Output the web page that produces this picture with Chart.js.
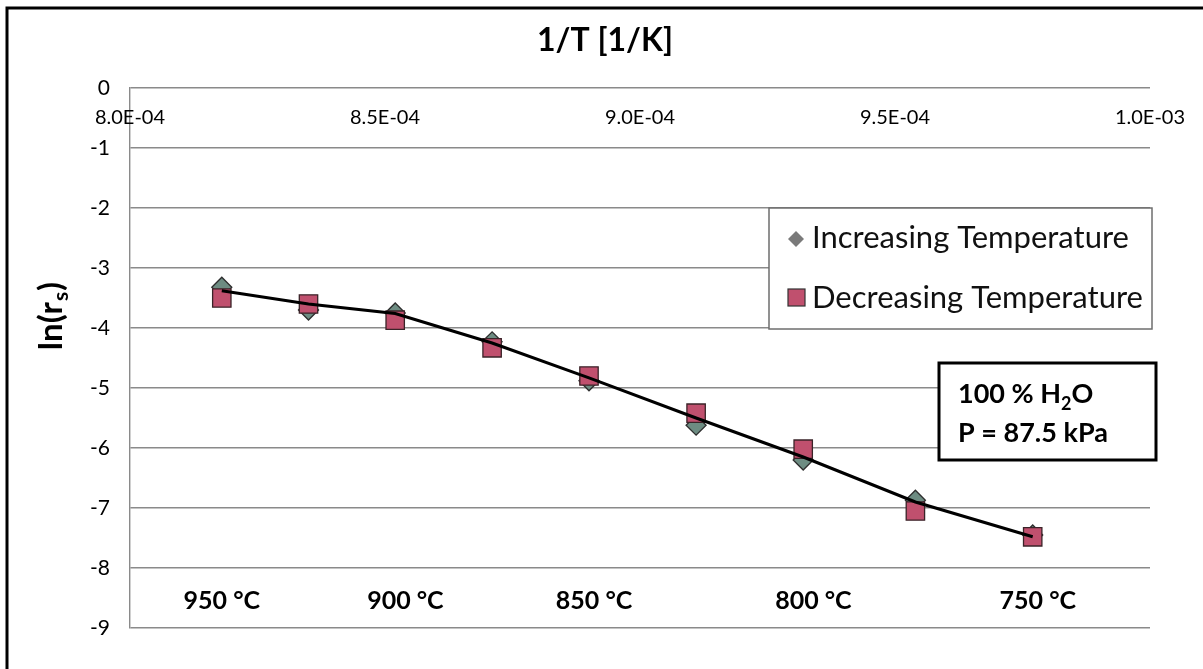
<!DOCTYPE html>
<html>
<head>
<meta charset="utf-8">
<script src="https://cdn.jsdelivr.net/npm/chart.js@4.4.0/dist/chart.umd.min.js"></script>
<style>
  html, body { margin: 0; padding: 0; background: #fff; }
  #wrap { width: 1203px; height: 669px; position: relative; }
</style>
</head>
<body>
<div id="wrap"><canvas id="arrhenius" width="1203" height="669"></canvas></div>
<script>
// values
const invT = [8.18e-4, 8.35e-4, 8.52e-4, 8.71e-4, 8.90e-4, 9.11e-4, 9.32e-4, 9.54e-4, 9.77e-4];
const increasing = [-3.32, -3.70, -3.75, -4.23, -4.88, -5.62, -6.20, -6.87, -7.45];
const decreasing = [-3.50, -3.60, -3.87, -4.33, -4.80, -5.42, -6.02, -7.05, -7.48];
const trend = [-3.38, -3.60, -3.76, -4.25, -4.83, -5.50, -6.15, -6.90, -7.48];

const xTicks = [8.0e-4, 8.5e-4, 9.0e-4, 9.5e-4, 1.0e-3];
const xTickLabels = ['8.0E-04', '8.5E-04', '9.0E-04', '9.5E-04', '1.0E-03'];
const tempLabels = ['950 °C', '900 °C', '850 °C', '800 °C', '750 °C'];
const tempLabelX = [8.18e-4, 8.54e-4, 8.91e-4, 9.34e-4, 9.78e-4];
const seriesNames = ['Increasing Temperature', 'Decreasing Temperature'];

const FONT = 'Lato, "Open Sans", sans-serif';

function pts(ys) {
    return invT.map((x, i) => ({ x: x, y: ys[i] }));
}

// draws text + boxes that excel puts inside the plot
const overlay = {
    id: 'overlay',
    afterDraw(chart) {
        const { ctx, scales: { x, y } } = chart;
        ctx.save();
        ctx.fillStyle = '#000';

        // x tick labels sit just under the 0 line
        ctx.font = '20px ' + FONT;
        ctx.textAlign = 'center';
        ctx.textBaseline = 'middle';
        xTicks.forEach((v, i) => {
            ctx.fillText(xTickLabels[i], x.getPixelForValue(v), y.getPixelForValue(-0.5));
        });

        // axis title on top
        ctx.font = 'bold 32px ' + FONT;
        ctx.textBaseline = 'alphabetic';
        ctx.fillText('1/T [1/K]', 605, 51);

        // y title ln(r_s)
        ctx.save();
        ctx.translate(62, 317);
        ctx.rotate(-Math.PI / 2);
        ctx.textAlign = 'left';
        ctx.textBaseline = 'alphabetic';
        const a = 'ln(r', c = ')';
        ctx.font = 'bold 33px ' + FONT;
        const wa = ctx.measureText(a).width;
        ctx.font = 'bold 21px ' + FONT;
        const wb = ctx.measureText('s').width;
        ctx.font = 'bold 33px ' + FONT;
        const wc = ctx.measureText(c).width;
        let sx = -(wa + wb + wc) / 2;
        ctx.fillText(a, sx, 0);
        ctx.font = 'bold 21px ' + FONT;
        ctx.fillText('s', sx + wa + 1, 6);
        ctx.font = 'bold 33px ' + FONT;
        ctx.fillText(c, sx + wa + wb + 2, 0);
        ctx.restore();

        // temperature labels along the bottom
        ctx.font = 'bold 25px ' + FONT;
        ctx.textAlign = 'center';
        ctx.textBaseline = 'middle';
        tempLabels.forEach((t, i) => {
            ctx.fillText(t, x.getPixelForValue(tempLabelX[i]), y.getPixelForValue(-8.55));
        });

        // legend box
        ctx.fillStyle = '#fff';
        ctx.fillRect(769, 208, 383, 121);
        ctx.strokeStyle = '#6e6e6e';
        ctx.lineWidth = 1.5;
        ctx.strokeRect(769, 208, 383, 121);
        // diamond marker
        ctx.fillStyle = '#7a7a7a';
        ctx.beginPath();
        ctx.moveTo(796, 231); ctx.lineTo(804, 239); ctx.lineTo(796, 247); ctx.lineTo(788, 239);
        ctx.closePath(); ctx.fill();
        // square marker
        ctx.fillStyle = '#c0506e';
        ctx.strokeStyle = '#333';
        ctx.lineWidth = 1.2;
        ctx.fillRect(788, 289, 17, 17);
        ctx.strokeRect(788, 289, 17, 17);
        ctx.fillStyle = '#111';
        ctx.font = '31px ' + FONT;
        ctx.textAlign = 'left';
        ctx.textBaseline = 'alphabetic';
        ctx.fillText(seriesNames[0], 812, 248);
        ctx.fillText(seriesNames[1], 812, 308);

        // conditions box
        ctx.fillStyle = '#fff';
        ctx.fillRect(939, 363, 217, 97);
        ctx.strokeStyle = '#000';
        ctx.lineWidth = 3;
        ctx.strokeRect(939, 363, 217, 97);
        ctx.fillStyle = '#000';
        ctx.font = 'bold 27px ' + FONT;
        let tx = 958;
        ctx.fillText('100 % H', tx, 403);
        tx += ctx.measureText('100 % H').width;
        ctx.font = 'bold 18px ' + FONT;
        ctx.fillText('2', tx, 410);
        tx += ctx.measureText('2').width;
        ctx.font = 'bold 27px ' + FONT;
        ctx.fillText('O', tx, 403);
        ctx.fillText('P = 87.5 kPa', 958, 442);

        // frame of the figure (top and left only are visible)
        ctx.strokeStyle = '#000';
        ctx.lineWidth = 3;
        ctx.beginPath();
        ctx.moveTo(7, 669); ctx.lineTo(7, 8); ctx.lineTo(1203, 8);
        ctx.stroke();
        ctx.restore();
    }
};

const ctx = document.getElementById('arrhenius').getContext('2d');
new Chart(ctx, {
    type: 'scatter',
    data: {
        datasets: [
            {
                label: 'trend',
                type: 'line',
                data: pts(trend),
                borderColor: '#000',
                borderWidth: 3,
                pointRadius: 0,
                tension: 0,
                order: 0
            },
            {
                label: seriesNames[1],
                data: pts(decreasing),
                pointStyle: 'rect',
                pointRadius: 13,
                backgroundColor: '#c0506e',
                borderColor: '#3a2328',
                borderWidth: 1.3,
                order: 1
            },
            {
                label: seriesNames[0],
                data: pts(increasing),
                pointStyle: 'rectRot',
                pointRadius: 10,
                backgroundColor: '#6d8c82',
                borderColor: '#2d2d2d',
                borderWidth: 1.3,
                order: 2
            }
        ]
    },
    options: {
        responsive: false,
        animation: false,
        devicePixelRatio: 1,
        layout: { padding: { top: 88, right: 53, bottom: 41, left: 0 } },
        plugins: {
            legend: { display: false },
            tooltip: { enabled: false }
        },
        scales: {
            x: {
                type: 'linear',
                min: 8.0e-4,
                max: 1.0e-3,
                display: false
            },
            y: {
                min: -9,
                max: 0,
                ticks: {
                    stepSize: 1,
                    padding: 20,
                    color: '#000',
                    font: { size: 21, family: FONT }
                },
                grid: { color: '#8a8a8a', lineWidth: 1.4, drawTicks: false },
                border: { color: '#8a8a8a', width: 1.4 },
                afterFit(scale) { scale.width = 130; }
            }
        }
    },
    plugins: [overlay]
});
</script>
</body>
</html>
